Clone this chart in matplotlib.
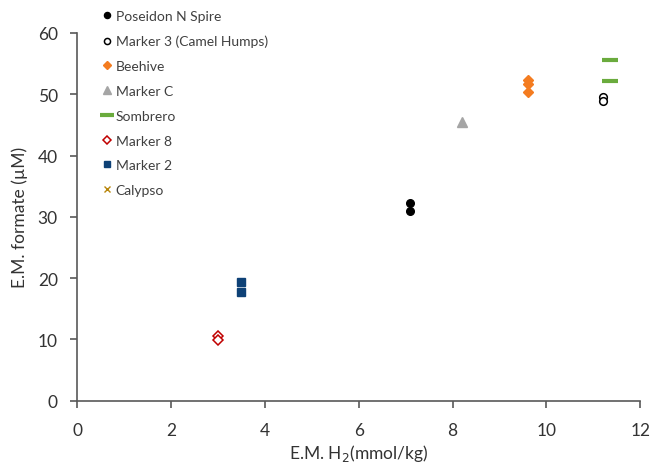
import matplotlib.pyplot as plt

plt.rcParams['font.family'] = ['Lato', 'DejaVu Sans']

# data
poseidon_x = [7.1, 7.1]
poseidon_y = [32.2, 30.9]
marker3_x = [11.2, 11.2]
marker3_y = [49.6, 48.9]
beehive_x = [9.6, 9.6, 9.6]
beehive_y = [52.3, 51.7, 50.4]
markerc_x = [8.2]
markerc_y = [45.4]
sombrero_x = [11.35, 11.35]
sombrero_y = [55.6, 52.2]
marker8_x = [3.0, 3.0]
marker8_y = [10.6, 9.9]
marker2_x = [3.5, 3.5]
marker2_y = [19.4, 17.7]
calypso_x = []
calypso_y = []

fig = plt.figure(figsize=(6.54, 4.64), dpi=100)
ax = fig.add_axes([0.118, 0.134, 0.861, 0.793])

ax.plot(poseidon_x, poseidon_y, 'o', color='black', ms=5.5, ls='none', label='Poseidon N Spire')
ax.plot(marker3_x, marker3_y, 'o', mfc='white', mec='black', mew=1.1, ms=5.5, ls='none',
        label='Marker 3 (Camel Humps)')
ax.plot(beehive_x, beehive_y, 'D', color='#F47C20', ms=5.5, ls='none', label='Beehive')
ax.plot(markerc_x, markerc_y, '^', color='#A5A5A5', ms=6.5, ls='none', label='Marker C')
ax.plot(sombrero_x, sombrero_y, '_', color='#6AAB3D', ms=12, mew=3, ls='none', label='Sombrero')
ax.plot(marker8_x, marker8_y, 'D', mfc='white', mec='#C00000', mew=1.1, ms=5, ls='none',
        label='Marker 8')
ax.plot(marker2_x, marker2_y, 's', color='#0E4176', ms=5.5, ls='none', label='Marker 2')
ax.plot(calypso_x, calypso_y, 'x', color='#B8860B', ms=6, ls='none', label='Calypso')

ax.set_xlim(0, 12)
ax.set_ylim(0, 60)
ax.set_xticks(range(0, 13, 2))
ax.set_yticks(range(0, 61, 10))
for s in ['top', 'right']:
    ax.spines[s].set_visible(False)
for s in ['left', 'bottom']:
    ax.spines[s].set_color('#595959')
    ax.spines[s].set_linewidth(1.2)
ax.tick_params(colors='#595959', labelcolor='#333333', labelsize=12.5, length=5, width=1.2)
ax.tick_params(axis='x', pad=10)
ax.tick_params(axis='y', pad=9)
ax.set_xlabel('E.M. H$_2$(mmol/kg)', fontsize=12.5, color='#333333', labelpad=3)
ax.set_ylabel('E.M. formate (µM)', fontsize=12.5, color='#333333', labelpad=7)

leg = ax.legend(loc='upper left', bbox_to_anchor=(0.148, 0.988), bbox_transform=fig.transFigure,
                frameon=False, fontsize=10, handlelength=0.6, handletextpad=0.35,
                labelspacing=0.92, borderaxespad=0, labelcolor='#404040', markerscale=0.8)

fig.savefig('out.png', dpi=100)
